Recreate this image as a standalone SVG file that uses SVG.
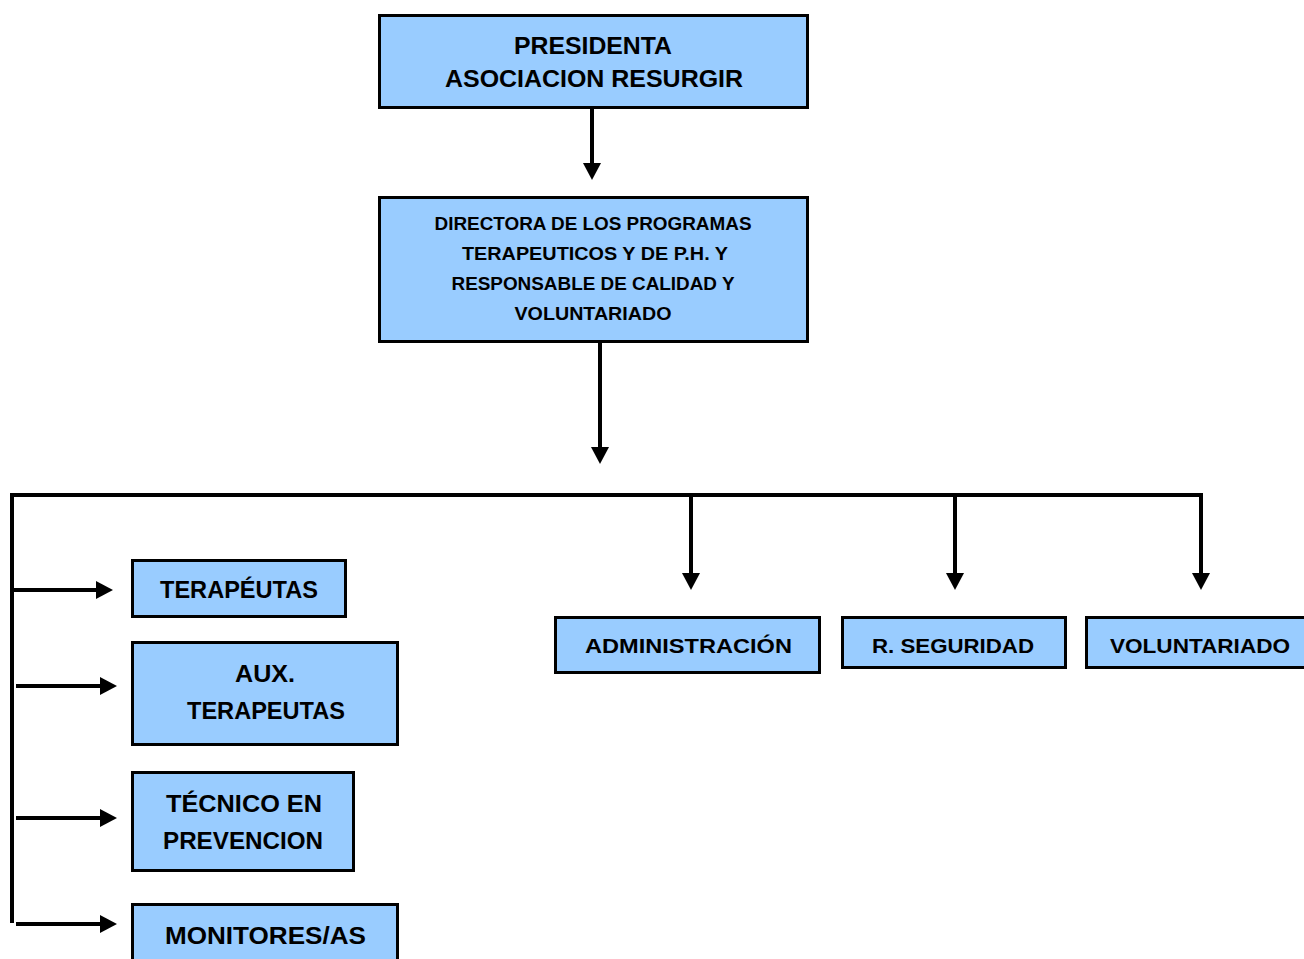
<svg xmlns="http://www.w3.org/2000/svg" width="1304" height="959" viewBox="0 0 1304 959">
<style>
.box{fill:#99CCFF;stroke:#000;stroke-width:3}
.t{font-family:"Liberation Sans","DejaVu Sans",sans-serif;font-weight:bold;fill:#000;text-anchor:middle}
.c{fill:none;stroke:#000;stroke-width:4}
</style>
<defs>
<marker id="ah" markerUnits="userSpaceOnUse" markerWidth="18" markerHeight="18" refX="0" refY="9" orient="auto" viewBox="0 0 18 18">
<path d="M0,0 L17,9 L0,18 z" fill="#000"/>
</marker>
</defs>
<rect width="1304" height="959" fill="#fff"/>
<g id="connectors">
<line class="c" x1="592" y1="108" x2="592" y2="163" marker-end="url(#ah)"/>
<line class="c" x1="600" y1="342" x2="600" y2="447" marker-end="url(#ah)"/>
<path class="c" d="M12,923 L12,495 L1201,495"/>
<line class="c" x1="691" y1="495" x2="691" y2="573" marker-end="url(#ah)"/>
<line class="c" x1="955" y1="495" x2="955" y2="573" marker-end="url(#ah)"/>
<line class="c" x1="1201" y1="493" x2="1201" y2="573" marker-end="url(#ah)"/>
<line class="c" x1="12" y1="590" x2="96" y2="590" marker-end="url(#ah)"/>
<line class="c" x1="16" y1="686" x2="100" y2="686" marker-end="url(#ah)"/>
<line class="c" x1="16" y1="818" x2="100" y2="818" marker-end="url(#ah)"/>
<line class="c" x1="16" y1="924" x2="100" y2="924" marker-end="url(#ah)"/>
</g>
<g id="presidenta">
<rect class="box" x="379.5" y="15.5" width="428" height="92"/>
<text class="t" x="593" y="54" font-size="23" textLength="158" lengthAdjust="spacingAndGlyphs">PRESIDENTA</text>
<text class="t" x="594" y="87" font-size="23" textLength="298" lengthAdjust="spacingAndGlyphs">ASOCIACION RESURGIR</text>
</g>
<g id="directora">
<rect class="box" x="379.5" y="197.5" width="428" height="144"/>
<text class="t" x="593" y="230" font-size="18" textLength="317" lengthAdjust="spacingAndGlyphs">DIRECTORA DE LOS PROGRAMAS</text>
<text class="t" x="595" y="260" font-size="18" textLength="266" lengthAdjust="spacingAndGlyphs">TERAPEUTICOS Y DE P.H. Y</text>
<text class="t" x="593" y="290" font-size="18" textLength="283" lengthAdjust="spacingAndGlyphs">RESPONSABLE DE CALIDAD Y</text>
<text class="t" x="593" y="320" font-size="18" textLength="157" lengthAdjust="spacingAndGlyphs">VOLUNTARIADO</text>
</g>
<g id="terapeutas">
<rect class="box" x="132.5" y="560.5" width="213" height="56"/>
<text class="t" x="239" y="598" font-size="23" textLength="158" lengthAdjust="spacingAndGlyphs">TERAPÉUTAS</text>
</g>
<g id="aux-terapeutas">
<rect class="box" x="132.5" y="642.5" width="265" height="102"/>
<text class="t" x="265" y="682" font-size="23" textLength="60" lengthAdjust="spacingAndGlyphs">AUX.</text>
<text class="t" x="266" y="719" font-size="23" textLength="158" lengthAdjust="spacingAndGlyphs">TERAPEUTAS</text>
</g>
<g id="tecnico">
<rect class="box" x="132.5" y="772.5" width="221" height="98"/>
<text class="t" x="244" y="812" font-size="23" textLength="156" lengthAdjust="spacingAndGlyphs">TÉCNICO EN</text>
<text class="t" x="243" y="849" font-size="23" textLength="160" lengthAdjust="spacingAndGlyphs">PREVENCION</text>
</g>
<g id="monitores">
<rect class="box" x="132.5" y="904.5" width="265" height="70"/>
<text class="t" x="265.5" y="944" font-size="23" textLength="201" lengthAdjust="spacingAndGlyphs">MONITORES/AS</text>
</g>
<g id="administracion">
<rect class="box" x="555.5" y="617.5" width="264" height="55"/>
<text class="t" x="688.5" y="653" font-size="20" textLength="207" lengthAdjust="spacingAndGlyphs">ADMINISTRACIÓN</text>
</g>
<g id="seguridad">
<rect class="box" x="842.5" y="617.5" width="223" height="50"/>
<text class="t" x="953" y="653" font-size="20" textLength="162" lengthAdjust="spacingAndGlyphs">R. SEGURIDAD</text>
</g>
<g id="voluntariado">
<rect class="box" x="1086.5" y="617.5" width="230" height="50"/>
<text class="t" x="1200" y="653" font-size="20" textLength="180" lengthAdjust="spacingAndGlyphs">VOLUNTARIADO</text>
</g>
</svg>
